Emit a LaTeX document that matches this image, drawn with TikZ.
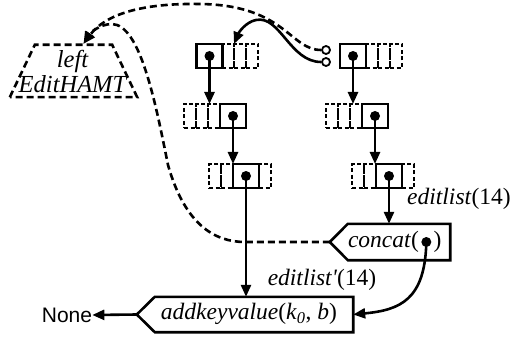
\documentclass[tikz,border=0pt]{standalone}
\usepackage{fontspec}
\setmainfont{Liberation Serif}
\newfontfamily\sansfam{Liberation Sans}
\usetikzlibrary{arrows.meta,calc,positioning}
\begin{document}
\begin{tikzpicture}[x=1pt,y=-1pt,
  lw/.style={line width=2.6pt},
  sbox/.style={draw, lw, minimum width=26pt, minimum height=24pt, inner sep=0pt, outer sep=0pt},
  dbox/.style={draw, lw, dash pattern=on 4pt off 2.5pt, minimum width=12pt, minimum height=24pt, inner sep=0pt, outer sep=0pt},
  arr/.style={lw, -{Triangle[length=12pt,width=10pt]}},
  dasharr/.style={lw, dash pattern=on 7pt off 4pt, -{Triangle[length=12pt,width=10pt]}},
  lbl/.style={font=\fontsize{23.5}{26}\selectfont, inner sep=0pt},
  ring/.style={circle, draw, line width=1.8pt, inner sep=0pt, minimum size=8pt},
  ]
\useasboundingbox (0,0) rectangle (521,339);

% ---- left column ----
\node[dbox] (L1a) at (228,56) {};
\node[dbox] (L1b) at (240,56) {};
\node[dbox] (L1c) at (252,56) {};
\node[sbox] (L1) at (209.5,56) {};

\node[dbox] (L2a) at (214,116) {};
\node[dbox] (L2b) at (202,116) {};
\node[dbox] (L2c) at (190,116) {};
\node[sbox] (L2) at (233,116) {};

\node[dbox] (L3a) at (227,176) {};
\node[dbox] (L3b) at (215,176) {};
\node[dbox] (L3c) at (265,176) {};
\node[sbox] (L3) at (246,176) {};

% ---- right column ----
\node[dbox] (R1a) at (372,56) {};
\node[dbox] (R1b) at (384,56) {};
\node[dbox] (R1c) at (396,56) {};
\node[sbox] (R1) at (353,56) {};

\node[dbox] (R2a) at (356,116) {};
\node[dbox] (R2b) at (344,116) {};
\node[dbox] (R2c) at (332,116) {};
\node[sbox] (R2) at (375,116) {};

\node[dbox] (R3a) at (370,176) {};
\node[dbox] (R3b) at (358,176) {};
\node[dbox] (R3c) at (408,176) {};
\node[sbox] (R3) at (389,176) {};

\foreach \n in {L1,L2,L3,R1,R2,R3} {\fill (\n.center) circle (5pt);}

% ---- EditHAMT ----
\node[minimum width=127pt, minimum height=52pt, inner sep=0pt] (edit) at (73.5,71) {};
\draw[lw, dash pattern=on 7pt off 4pt] (edit.south west) -- ($(edit.north west)+(25,0)$)
  -- ($(edit.north east)+(-25,0)$) -- (edit.south east) -- cycle;
\node[lbl, align=center, font=\fontsize{24.5}{25}\selectfont\itshape] (edittext) at (72.5,72) {left\\EditHAMT};
\coordinate (edtip) at ($(edit.north)+(10,-1)$);

% ---- concat ----
\node[minimum width=102pt, minimum height=36pt, inner sep=0pt] (concat) at (399,242) {};
\draw[lw] (concat.north west) -- (concat.north east) -- (concat.south east) -- (concat.south west)
  -- ($(concat.west)+(-18,0)$) -- cycle;
\coordinate (concattip) at ($(concat.west)+(-18,0)$);
\node[lbl, anchor=west] (ctext) at ($(concat.west)+(0,0)$) {\textit{concat}(};
\node[circle, fill, inner sep=0pt, minimum size=10pt, right=2pt of ctext] (cdot) {};
\node[lbl, right=2pt of cdot] (cclose) {)};

% ---- addkeyvalue ----
\node[minimum width=198pt, minimum height=35pt, inner sep=0pt] (akv) at (254,314.5) {};
\draw[lw] (akv.north west) -- (akv.north east) -- (akv.south east) -- (akv.south west)
  -- ($(akv.west)+(-18,0)$) -- cycle;
\coordinate (akvtip) at ($(akv.west)+(-18,0)$);
\node[lbl] (akvtext) at (249,314) {\textit{addkeyvalue}(\textit{k}\textsubscript{\textit{0}}, \textit{b})};

% ---- labels ----
\node[lbl] (el) at (459,199) {\textit{editlist}(14)};
\node[lbl] (el2) at (322,280) {\textit{editlist\textquotesingle}(14)};
\node[lbl, font=\sansfam\fontsize{21}{24}\selectfont] (none) at (67,315) {None};

% ---- rings ----
\node[ring] (c1) at (326,50) {};
\node[ring] (c2) at (326,62) {};

% ---- arrows ----
\draw[arr] (L1.center) -- (L1.center |- L2.north);
\draw[arr] (L2.center) -- (L2.center |- L3.north);
\draw[arr] (L3.center) -- (L3.center |- akv.north);
\draw[arr] (R1.center) -- (R1.center |- R2.north);
\draw[arr] (R2.center) -- (R2.center |- R3.north);
\draw[arr] (R3.center) -- (R3.center |- concat.north);

\draw[arr] (cdot.center) .. controls (425,300) and (400,310) .. (akv.east);
\draw[arr] (akvtip) -- (none.east);

\draw[arr] (c2.west) .. controls (290,62) and (280,15) .. (256,20)
  .. controls (246,22) and (239,32) .. (L1a.north east);

\draw[dasharr] (c1.west) .. controls (290,50) and (285,5) .. (200,4)
  .. controls (140,3) and (105,15) .. (edtip);

\draw[dasharr] (concattip) -- (245,242) .. controls (215,242) and (185,225) .. (168,165)
  .. controls (155,100) and (140,25) .. (112,24) .. controls (100,24) and (90,33) .. (edtip);
\end{tikzpicture}
\end{document}
